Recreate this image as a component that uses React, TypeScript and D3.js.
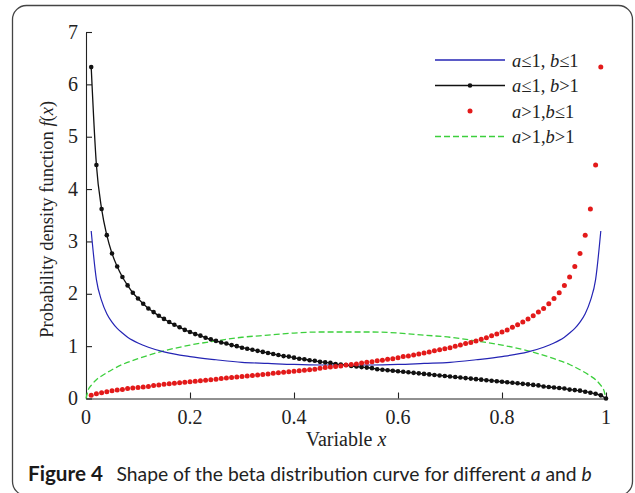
import React, { useEffect, useRef } from 'react';
import * as d3 from 'd3';

// axis ticks
const xTicks = [0, 0.2, 0.4, 0.6, 0.8, 1];
const xTickLabels = ['0', '0.2', '0.4', '0.6', '0.8', '1'];
const yTicks = [0, 1, 2, 3, 4, 5, 6, 7];

// a<=1, b<=1 (solid blue)
const blueX = [0.01, 0.02, 0.03, 0.04, 0.05, 0.06, 0.07, 0.08, 0.09, 0.1, 0.12, 0.15, 0.2, 0.25, 0.3, 0.35, 0.4, 0.45, 0.5,
  0.55, 0.6, 0.65, 0.7, 0.75, 0.8, 0.85, 0.88, 0.9, 0.91, 0.92, 0.93, 0.94, 0.95, 0.96, 0.97, 0.98, 0.99];
const blueY = [3.20, 2.27, 1.87, 1.62, 1.46, 1.34, 1.25, 1.17, 1.11, 1.06, 0.98, 0.89, 0.80, 0.74, 0.69, 0.67, 0.65, 0.64, 0.64,
  0.64, 0.65, 0.67, 0.69, 0.74, 0.80, 0.89, 0.98, 1.06, 1.11, 1.17, 1.25, 1.34, 1.46, 1.62, 1.87, 2.27, 3.20];

// a<=1, b>1 (black line + dots), sampled at x = 0.01 .. 1.00
const blackY = [6.33, 4.46, 3.62, 3.12, 2.77, 2.52, 2.32, 2.16, 2.02, 1.91,
  1.81, 1.72, 1.65, 1.58, 1.52, 1.46, 1.41, 1.36, 1.31, 1.27,
  1.23, 1.20, 1.16, 1.13, 1.10, 1.07, 1.05, 1.02, 1.00, 0.97,
  0.95, 0.93, 0.91, 0.89, 0.87, 0.85, 0.83, 0.81, 0.80, 0.78,
  0.76, 0.75, 0.73, 0.72, 0.70, 0.69, 0.68, 0.66, 0.65, 0.64,
  0.62, 0.61, 0.60, 0.59, 0.58, 0.56, 0.55, 0.54, 0.53, 0.52,
  0.51, 0.50, 0.49, 0.48, 0.47, 0.46, 0.45, 0.44, 0.43, 0.42,
  0.41, 0.40, 0.39, 0.38, 0.37, 0.36, 0.35, 0.34, 0.33, 0.32,
  0.31, 0.30, 0.29, 0.28, 0.27, 0.26, 0.25, 0.23, 0.22, 0.21,
  0.20, 0.19, 0.17, 0.16, 0.15, 0.13, 0.11, 0.09, 0.06, 0];

// a>1, b<=1 (red dots), sampled at x = 0.01 .. 0.99
const redY = [0.06, 0.09, 0.11, 0.13, 0.15, 0.16, 0.17, 0.19, 0.20, 0.21,
  0.22, 0.23, 0.25, 0.26, 0.27, 0.28, 0.29, 0.30, 0.31, 0.32,
  0.33, 0.34, 0.35, 0.36, 0.37, 0.38, 0.39, 0.40, 0.41, 0.42,
  0.43, 0.44, 0.45, 0.46, 0.47, 0.48, 0.49, 0.50, 0.51, 0.52,
  0.53, 0.54, 0.55, 0.56, 0.58, 0.59, 0.60, 0.61, 0.62, 0.64,
  0.65, 0.66, 0.68, 0.69, 0.70, 0.72, 0.73, 0.75, 0.76, 0.78,
  0.80, 0.81, 0.83, 0.85, 0.87, 0.89, 0.91, 0.93, 0.95, 0.97,
  1.00, 1.02, 1.05, 1.07, 1.10, 1.13, 1.16, 1.20, 1.23, 1.27,
  1.31, 1.36, 1.41, 1.46, 1.52, 1.58, 1.65, 1.72, 1.81, 1.91,
  2.02, 2.16, 2.32, 2.52, 2.77, 3.12, 3.62, 4.46, 6.33];

// a>1, b>1 (dashed green)
const greenX = [0, 0.005, 0.01, 0.02, 0.03, 0.05, 0.07, 0.1, 0.15, 0.2, 0.25, 0.3, 0.35, 0.4, 0.45, 0.5,
  0.55, 0.6, 0.65, 0.7, 0.75, 0.8, 0.85, 0.9, 0.93, 0.95, 0.97, 0.98, 0.99, 0.995, 1];
const greenY = [0, 0.18, 0.25, 0.36, 0.43, 0.55, 0.65, 0.76, 0.91, 1.02, 1.10, 1.17, 1.21, 1.25, 1.27, 1.27,
  1.27, 1.25, 1.21, 1.17, 1.10, 1.02, 0.91, 0.76, 0.65, 0.55, 0.43, 0.36, 0.25, 0.18, 0];

const legendItems = [
  { a: '≤1, ', b: '≤1', kind: 'blue' },
  { a: '≤1, ', b: '>1', kind: 'black' },
  { a: '>1,', b: '≤1', kind: 'red' },
  { a: '>1,', b: '>1', kind: 'green' },
];

const BLUE = '#2424b4';
const RED = '#e31a1a';
const GREEN = '#3ccf3c';
const SERIF = '"Liberation Serif", "Times New Roman", serif';
const SANS = 'Lato, "Open Sans", sans-serif';

const App = () => {
  const svgRef = useRef<SVGSVGElement>(null);

  useEffect(() => {
    if (!svgRef.current) return;
    const svg = d3.select(svgRef.current);
    svg.selectAll('*').remove();

    const left = 86;
    const right = 606;
    const top = 32;
    const bottom = 398.5;

    const x = d3.scaleLinear().domain([0, 1]).range([left, right]);
    const y = d3.scaleLinear().domain([0, 7]).range([bottom, top]);

    // outer frame
    svg.append('rect')
      .attr('x', 12.5).attr('y', 5.5)
      .attr('width', 620).attr('height', 490)
      .attr('rx', 14)
      .attr('fill', 'none')
      .attr('stroke', '#444')
      .attr('stroke-width', 1.3);

    // axes (ticks inward)
    const xAxis = svg.append('g')
      .attr('transform', `translate(0,${bottom})`)
      .call(d3.axisBottom(x).tickValues(xTicks).tickSizeInner(-6).tickSizeOuter(0).tickFormat(() => ''));
    const yAxis = svg.append('g')
      .attr('transform', `translate(${left},0)`)
      .call(d3.axisLeft(y).tickValues(yTicks).tickSizeInner(-6).tickSizeOuter(0).tickFormat(() => ''));
    [xAxis, yAxis].forEach(a => {
      a.selectAll('path, line').attr('stroke', '#222').attr('stroke-width', 1.1);
    });

    svg.append('g').selectAll('text')
      .data(xTicks)
      .enter().append('text')
      .attr('x', d => x(d))
      .attr('y', 424)
      .attr('text-anchor', 'middle')
      .attr('font-family', SERIF)
      .attr('font-size', 20)
      .attr('fill', '#222')
      .text((_, i) => xTickLabels[i]);

    svg.append('g').selectAll('text')
      .data(yTicks)
      .enter().append('text')
      .attr('x', 78)
      .attr('y', d => y(d) + 6.5)
      .attr('text-anchor', 'end')
      .attr('font-family', SERIF)
      .attr('font-size', 20)
      .attr('fill', '#222')
      .text(d => String(d));

    // axis titles
    const xt = svg.append('text')
      .attr('x', (left + right) / 2)
      .attr('y', 446)
      .attr('text-anchor', 'middle')
      .attr('font-family', SERIF)
      .attr('font-size', 20)
      .attr('fill', '#222');
    xt.append('tspan').text('Variable ');
    xt.append('tspan').attr('font-style', 'italic').text('x');

    const yt = svg.append('text')
      .attr('transform', `translate(53,${(top + bottom) / 2 + 4}) rotate(-90)`)
      .attr('text-anchor', 'middle')
      .attr('font-family', SERIF)
      .attr('font-size', 18.5)
      .attr('fill', '#222');
    yt.append('tspan').text('Probability density function ');
    yt.append('tspan').attr('font-style', 'italic').text('f');
    yt.append('tspan').text('(');
    yt.append('tspan').attr('font-style', 'italic').text('x');
    yt.append('tspan').text(')');

    const sampleX = d3.range(1, 101).map(i => i / 100);
    const black = blackY.map((v, i) => ({ x: sampleX[i], y: v }));
    const red = redY.map((v, i) => ({ x: sampleX[i], y: v }));
    const blue = blueY.map((v, i) => ({ x: blueX[i], y: v }));
    const green = greenY.map((v, i) => ({ x: greenX[i], y: v }));

    const line = d3.line<{ x: number; y: number }>()
      .x(d => x(d.x))
      .y(d => y(d.y))
      .curve(d3.curveMonotoneX);

    svg.append('path')
      .datum(green)
      .attr('d', line)
      .attr('fill', 'none')
      .attr('stroke', GREEN)
      .attr('stroke-width', 1.3)
      .attr('stroke-dasharray', '6,3');

    svg.append('path')
      .datum(blue)
      .attr('d', line)
      .attr('fill', 'none')
      .attr('stroke', BLUE)
      .attr('stroke-width', 1.2);

    svg.append('path')
      .datum(black)
      .attr('d', line)
      .attr('fill', 'none')
      .attr('stroke', '#111')
      .attr('stroke-width', 1.3);

    svg.append('g').selectAll('circle')
      .data(black)
      .enter().append('circle')
      .attr('cx', d => x(d.x))
      .attr('cy', d => y(d.y))
      .attr('r', 2.3)
      .attr('fill', '#111');

    svg.append('g').selectAll('circle')
      .data(red)
      .enter().append('circle')
      .attr('cx', d => x(d.x))
      .attr('cy', d => y(d.y))
      .attr('r', 2.5)
      .attr('fill', RED);

    // legend
    const lg = svg.append('g');
    legendItems.forEach((item, i) => {
      const cy = 60 + i * 25.5;
      const row = lg.append('g');
      if (item.kind === 'blue' || item.kind === 'black' || item.kind === 'green') {
        row.append('line')
          .attr('x1', 435).attr('x2', 505)
          .attr('y1', cy).attr('y2', cy)
          .attr('stroke', item.kind === 'blue' ? BLUE : item.kind === 'green' ? GREEN : '#111')
          .attr('stroke-width', 1.3)
          .attr('stroke-dasharray', item.kind === 'green' ? '6,3' : null);
      }
      if (item.kind === 'black') {
        row.append('circle').attr('cx', 470).attr('cy', cy).attr('r', 2.3).attr('fill', '#111');
      }
      if (item.kind === 'red') {
        row.append('circle').attr('cx', 470).attr('cy', cy).attr('r', 2.5).attr('fill', RED);
      }
      const t = row.append('text')
        .attr('x', 512)
        .attr('y', cy + 6.5)
        .attr('font-family', SERIF)
        .attr('font-size', 18.5)
        .attr('fill', '#222');
      t.append('tspan').attr('font-style', 'italic').text('a');
      t.append('tspan').text(item.a);
      t.append('tspan').attr('font-style', 'italic').text('b');
      t.append('tspan').text(item.b);
    });

    // caption
    svg.append('text')
      .attr('x', 28)
      .attr('y', 481)
      .attr('font-family', SANS)
      .attr('font-size', 21)
      .attr('font-weight', 'bold')
      .attr('fill', '#1a1a1a')
      .attr('textLength', 75)
      .attr('lengthAdjust', 'spacingAndGlyphs')
      .text('Figure 4');
    const body = svg.append('text')
      .attr('x', 116.5)
      .attr('y', 481)
      .attr('font-family', SANS)
      .attr('font-size', 19.3)
      .attr('fill', '#222');
    body.append('tspan').text('Shape of the beta distribution curve for different ');
    body.append('tspan').attr('font-style', 'italic').text('a');
    body.append('tspan').text(' and ');
    body.append('tspan').attr('font-style', 'italic').text('b');
  }, []);

  return (
    <svg
      ref={svgRef}
      width={635}
      height={493}
      viewBox="0 0 635 493"
      style={{ position: 'absolute', left: 0, top: 0, background: '#fff' }}
    />
  );
};

export default App;
